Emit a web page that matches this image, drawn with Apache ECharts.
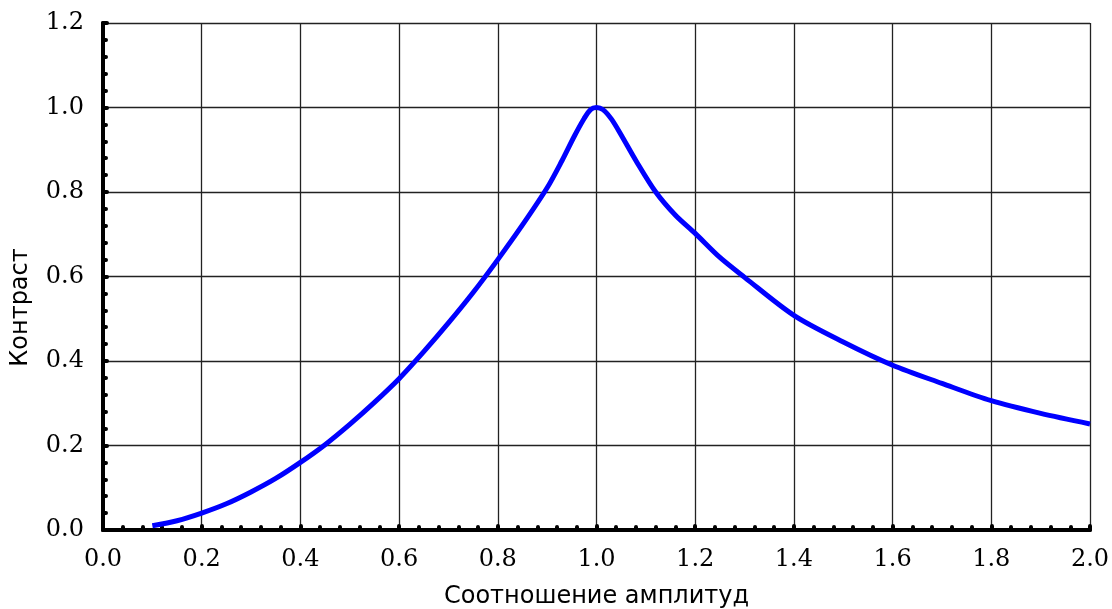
<!DOCTYPE html>
<html>
<head>
<meta charset="utf-8">
<script src="https://cdn.jsdelivr.net/npm/echarts@6/dist/echarts.min.js"></script>
<style>
  html, body { margin: 0; padding: 0; background: #fff; }
  #chart { width: 1112px; height: 609px; }
</style>
</head>
<body>
<div id="chart"></div>
<script>
// amplitude ratio (x) and contrast (y)
var ratio = [0.10, 0.15, 0.20, 0.25, 0.30, 0.35, 0.40, 0.45, 0.50, 0.55, 0.60, 0.65, 0.70, 0.75, 0.80,
    0.85, 0.90, 0.93, 0.955, 0.975, 0.988, 1.00, 1.013, 1.03, 1.05, 1.08, 1.12, 1.16, 1.20, 1.25, 1.30,
    1.40, 1.50, 1.60, 1.70, 1.80, 1.90, 2.00];
var contrast = [0.010, 0.022, 0.040, 0.062, 0.090, 0.122, 0.160, 0.202, 0.250, 0.302, 0.358, 0.422, 0.490, 0.562, 0.640,
    0.722, 0.810, 0.874, 0.932, 0.974, 0.995, 1.000, 0.995, 0.973, 0.935, 0.874, 0.800, 0.745, 0.702, 0.645, 0.598,
    0.508, 0.445, 0.390, 0.347, 0.306, 0.276, 0.251];

var xName = 'Соотношение амплитуд';
var yName = 'Контраст';

var points = [];
for (var i = 0; i < ratio.length; i++) {
    points.push([ratio[i], contrast[i]]);
}

var chart = echarts.init(document.getElementById('chart'));

var tickFont = {
    color: '#000',
    fontFamily: 'DejaVu Serif',
    fontSize: 24
};

function axisStyle() {
    return {
        axisLine: { show: true, onZero: false, lineStyle: { color: '#000', width: 4 } },
        axisTick: { show: true, inside: true, length: 4, lineStyle: { color: '#000', width: 4, cap: 'round' } },
        minorTick: { show: true, splitNumber: 5, length: 3, lineStyle: { color: '#000', width: 4, cap: 'round' } },
        splitLine: { show: true, lineStyle: { color: '#222', width: 1.3 } }
    };
}

var xAxis = axisStyle();
xAxis.type = 'value';
xAxis.min = 0;
xAxis.max = 2;
xAxis.interval = 0.2;
xAxis.name = xName;
xAxis.nameLocation = 'middle';
xAxis.nameGap = 55;
xAxis.nameTextStyle = { color: '#000', fontFamily: 'DejaVu Sans', fontSize: 24 };
xAxis.axisLabel = Object.assign({ margin: 18, formatter: function (v) { return v.toFixed(1); } }, tickFont);

var yAxis = axisStyle();
yAxis.type = 'value';
yAxis.min = 0;
yAxis.max = 1.2;
yAxis.interval = 0.2;
yAxis.name = yName;
yAxis.nameLocation = 'middle';
yAxis.nameGap = 70;
yAxis.nameTextStyle = { color: '#000', fontFamily: 'DejaVu Sans', fontSize: 24, padding: [0, 62, 0, 0] };
yAxis.axisLabel = Object.assign({ margin: 19, formatter: function (v) { return v.toFixed(1); } }, tickFont);

chart.setOption({
    animation: false,
    grid: { left: 103, right: 22, top: 23, bottom: 79, containLabel: false, outerBoundsMode: 'none' },
    xAxis: xAxis,
    yAxis: yAxis,
    series: [{
        type: 'line',
        data: points,
        smooth: 0.3,
        showSymbol: false,
        lineStyle: { color: '#0000ff', width: 5 },
        z: 1
    }]
});
</script>
</body>
</html>
